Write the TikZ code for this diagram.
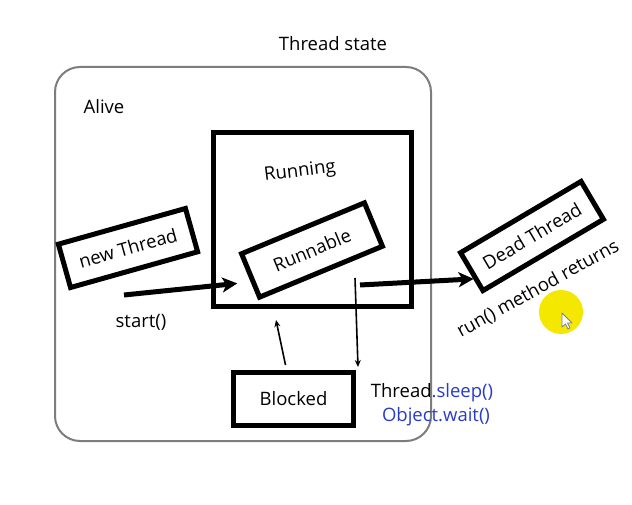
\documentclass[tikz,border=0pt]{standalone}
\usepackage{fontspec}
\setmainfont{Open Sans}
\usetikzlibrary{arrows.meta}
\definecolor{textblue}{RGB}{40,60,200}
\definecolor{outergray}{RGB}{125,125,125}
\definecolor{hiyellow}{RGB}{245,232,0}
\tikzset{
  statebox/.style={draw=black, line width=5pt, minimum width=#1, inner sep=0pt, font=\fontsize{18.5}{21}\selectfont},
  lbl/.style={font=\fontsize{18.5}{21}\selectfont, inner sep=0pt},
  bigarrow/.style={line width=5pt, -{Stealth[length=15pt,width=15pt,inset=4pt]}},
  thinarrow/.style={line width=1.6pt, -{Stealth[length=7pt,width=6pt]}}
}
\begin{document}
\begin{tikzpicture}[x=1pt,y=-1pt]
\useasboundingbox (0,0) rectangle (632,505);
\fill[white] (0,0) rectangle (632,505);
% outer alive box
\node[draw=outergray, line width=2pt, rounded corners=25pt, minimum width=376pt, minimum height=374pt, inner sep=0pt] (alive) at (243,254) {};
\node[lbl] (title) at (333,44) {Thread state};
\node[lbl] (alivelbl) at (104,107) {Alive};
% running box
\node[draw=black, line width=5pt, minimum width=198pt, minimum height=174pt, inner sep=0pt] (running) at (312.5,219.5) {};
\node[lbl, rotate=7] (runninglbl) at (300,172) {Running};
% states
\node[statebox=132pt, minimum height=45pt, rotate=15.7] (newthread) at (128,248) {new Thread};
\node[statebox=133pt, minimum height=47pt, rotate=22.5] (runnable) at (312,250) {Runnable};
\node[statebox=140pt, minimum height=44pt, rotate=30.6] (dead) at (532,236) {Dead Thread};
\node[statebox=120pt, minimum height=53pt] (blocked) at (293.5,399) {Blocked};
% labels
\node[lbl] (startlbl) at (141,322) {start()};
\node[lbl, rotate=29] (runret) at (538,289) {run() method returns};
\node[lbl] (sleeplbl) at (432,393) {Thread\textcolor{textblue}{.sleep()}};
\node[lbl, text=textblue] (waitlbl) at (436,417) {Object.wait()};
% connectors
\coordinate (s0) at (124,295);
\coordinate (d0) at (360,285);
\coordinate (b0) at (355,278);
\coordinate (u1) at (276,320);
\draw[bigarrow] (s0) -- ([shift={(-11,7)}]runnable.west);
\draw[bigarrow] (d0) -- ([shift={(4,6)}]dead.west);
\draw[thinarrow] (b0) -- ([shift={(2,-3)}]blocked.north east);
\draw[thinarrow] ([shift={(-8,-5)}]blocked.north) -- (u1);
% cursor highlight
\fill[hiyellow] (561,312) circle (22pt);
\draw[fill=white, draw=gray, line width=0.8pt, line join=round] (562,313) -- (562,327) -- (565.5,324) -- (568,329) -- (570,328) -- (567.5,323) -- (572,323) -- cycle;
\end{tikzpicture}
\end{document}
